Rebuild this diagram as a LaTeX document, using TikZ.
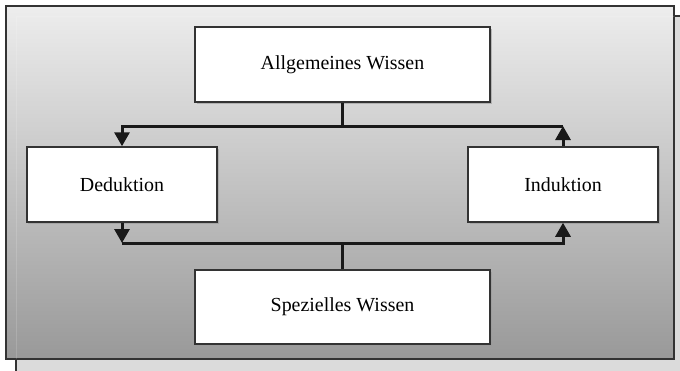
\documentclass[tikz,border=0pt]{standalone}
\usepackage{fontspec}
\setmainfont{Liberation Serif}
\usetikzlibrary{arrows.meta,shadows}
\definecolor{frametop}{gray}{0.93}
\definecolor{framebot}{gray}{0.60}
\definecolor{backcol}{gray}{0.86}
\definecolor{edgecol}{gray}{0.20}
\tikzset{
  wissen/.style={draw=edgecol,line width=1.5bp,fill=white,align=center,
    font=\fontsize{20}{24}\selectfont,
    drop shadow={shadow xshift=1.5bp,shadow yshift=-1.5bp,fill=gray!80,opacity=0.6}},
  weg/.style={draw=black!90,line width=3bp},
  pfeil/.style={weg,-{Triangle[width=15bp,length=14bp]}}
}
\begin{document}
\begin{tikzpicture}[x=1bp,y=-1bp]
\useasboundingbox (0,0) rectangle (680,370);
\clip (0,0) rectangle (680,370);
% background frame
\draw[edgecol,line width=1.5bp,fill=backcol] (16,16) rectangle (700,390);
\draw[edgecol,line width=2bp,top color=frametop,bottom color=framebot] (6,6) rectangle (674,359);
\draw[white,opacity=0.15,line width=1bp] (16,359) -- (16,16) -- (674,16);
% boxes
\node[wissen,minimum width=295bp,minimum height=75bp] (allg) at (342.5,64.5) {Allgemeines Wissen};
\node[wissen,minimum width=190bp,minimum height=75bp] (dedu) at (122,184.5) {Deduktion};
\node[wissen,minimum width=190bp,minimum height=75bp] (indu) at (563,184.5) {Induktion};
\node[wissen,minimum width=295bp,minimum height=74bp] (spez) at (342.5,307) {Spezielles Wissen};
\coordinate (oben) at (342.5,126);
\coordinate (unten) at (342.5,243);
% connectors
\draw[weg] (allg.south) -- (oben);
\draw[pfeil] (oben) -| (dedu.north);
\draw[weg] (oben) -- (indu.north |- oben);
\draw[pfeil] (indu.north) -- (indu.north |- oben);
\draw[weg] (spez.north) -- (unten);
\draw[pfeil] (dedu.south) -- (dedu.south |- unten);
\draw[weg] (dedu.south |- unten) -- (unten);
\draw[pfeil] (unten) -| (indu.south);
\end{tikzpicture}
\end{document}
